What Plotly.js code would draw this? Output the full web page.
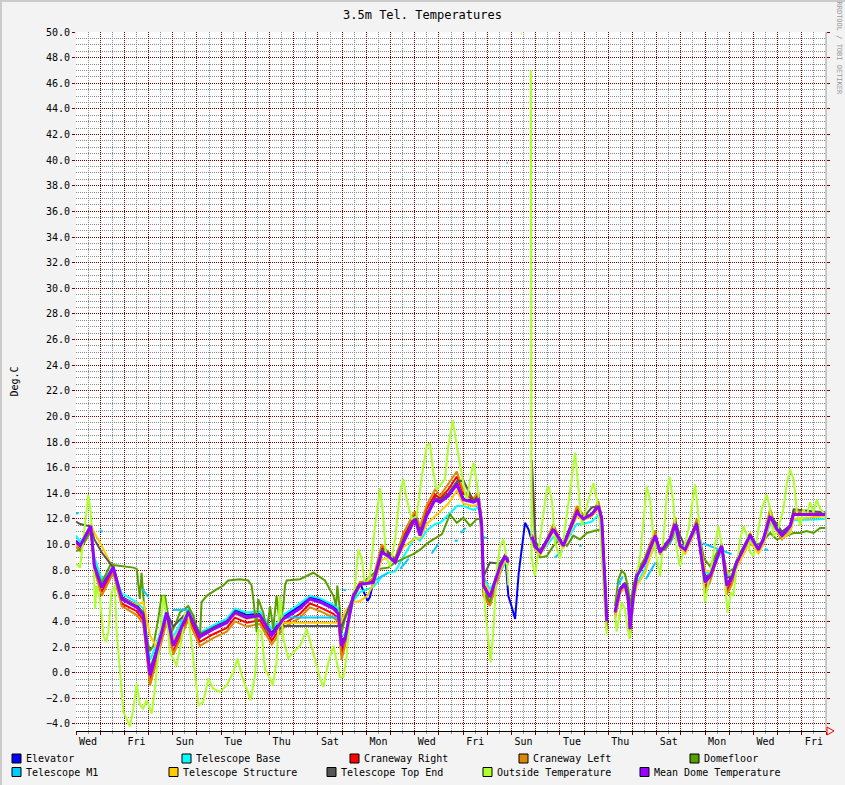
<!DOCTYPE html>
<html><head><meta charset="utf-8">
<script src="https://cdn.plot.ly/plotly-3.0.1.min.js"></script>
<style>html,body{margin:0;padding:0;background:#f3f3f3;} #chart{width:845px;height:785px;}</style>
</head><body><div id="chart"></div>
<script>
// ---------- DATA (days since start of graph; temperatures in Deg.C) ----------
const dayLabels = ['Wed','Fri','Sun','Tue','Thu','Sat','Mon','Wed','Fri','Sun','Tue','Thu','Sat','Mon','Wed','Fri'];
const labelDays = [0.5,2.5,4.5,6.5,8.5,10.5,12.5,14.5,16.5,18.5,20.5,22.5,24.5,26.5,28.5,30.5];

const seriesNames = ['Elevator','Telescope Base','Craneway Right','Craneway Left','Domefloor',
  'Telescope M1','Telescope Structure','Telescope Top End','Outside Temperature','Mean Dome Temperature'];

const days = [0,0.17,0.61,0.76,1.06,1.54,1.89,2.51,2.78,3.06,
 3.33,3.75,4.02,4.64,5.12,5.67,6.23,6.57,7.05,7.6,
 8.09,8.57,9.26,9.67,10.09,10.64,10.84,10.98,11.12,11.46,
 11.74,12.05,12.15,12.29,12.64,12.91,13.19,13.53,14.01,14.22,
 14.5,14.84,15.05,15.39,15.74,16.01,16.43,16.63,16.77,16.84,
 17.11,17.53,17.74,17.87,18.0,18.15,18.3,18.56,18.7,18.84,
 19.0,19.2,19.73,20.14,20.7,20.97,21.32,21.59,21.73,21.87,
 21.94,22.1,22.28,22.49,22.69,22.83,22.9,23.04,23.18,23.52,
 23.94,24.14,24.56,24.77,24.97,25.18,25.66,25.86,26.0,26.21,
 26.69,26.9,27.11,27.31,27.86,28.21,28.41,28.69,28.97,29.18,
 29.52,29.66,30.97];

const meanDome = [10.2,9.9,11.45,8.3,6.65,8.2,5.75,5.1,4.45,-0.2,
 1.6,4.7,2.1,4.7,2.8,3.4,3.9,4.7,4.3,4.45,
 2.9,4.2,5.0,5.75,5.5,5.0,4.6,2.1,2.65,6.0,
 6.9,6.95,7.0,7.05,9.4,9.1,8.6,10.15,12.0,10.7,
 12.25,13.5,13.3,13.8,14.7,13.5,13.3,13.5,11.45,6.8,
 5.9,8.3,9.1,8.6,null,null,null,null,null,10.6,
 9.8,9.4,11.2,9.9,12.5,12.0,12.35,13.0,12.0,6.8,
 4.0,null,4.7,6.5,6.9,5.75,3.4,6.0,7.55,8.6,
 10.7,9.4,10.4,11.6,9.9,9.6,11.6,8.9,7.05,7.55,
 9.9,6.8,7.4,8.6,10.7,9.6,10.4,12.2,11.2,10.7,
 11.45,12.35,12.35];

const elevator = [10.3,10.0,11.5,8.0,6.8,8.3,5.9,5.3,4.6,0.0,
 1.8,4.9,2.3,4.9,3.0,3.6,4.1,4.9,4.5,4.6,
 3.1,4.4,5.2,5.9,5.7,5.2,4.8,2.3,2.8,6.1,
 7.0,5.6,5.9,7.1,9.5,9.2,8.7,10.3,12.1,10.8,
 12.3,13.6,13.4,13.9,14.8,13.6,13.4,13.6,11.5,6.9,
 6.0,8.4,9.2,6.0,5.2,4.2,7.8,11.7,11.2,10.3,
 9.9,9.5,11.3,10.0,12.6,12.1,12.4,13.1,12.1,6.9,
 4.1,null,4.8,6.6,7.0,5.9,3.5,6.1,7.7,8.7,
 10.8,9.5,10.5,11.7,10.0,9.7,11.7,9.0,7.2,7.7,
 10.0,6.9,7.5,8.7,10.8,9.7,10.5,12.3,11.3,10.8,
 11.5,12.4,12.5];

const telescopeBase = [10.7,10.2,11.3,9.0,7.3,8.1,6.2,5.5,5.0,1.0,
 2.2,5.0,2.8,5.0,3.1,3.7,4.2,5.0,4.7,4.8,
 3.4,4.5,5.4,6.0,5.8,5.3,5.0,2.9,3.0,5.6,
 6.3,6.5,6.6,6.7,7.5,7.8,7.9,9.0,10.6,10.3,
 11.1,11.6,11.7,12.3,13.0,13.0,12.7,12.9,11.8,7.5,
 6.5,7.8,8.6,8.4,null,null,null,null,null,13.5,
 9.7,9.3,10.6,9.9,11.6,11.6,11.8,12.3,11.5,7.5,
 4.5,null,5.2,6.3,6.7,6.2,4.5,5.8,7.0,8.1,
 10.0,9.4,10.1,11.0,9.9,9.6,11.1,9.3,7.8,7.8,
 9.5,7.6,7.6,8.5,10.3,9.6,10.1,11.6,11.1,10.6,
 11.1,11.9,12.0];

const cranewayRight = [10.0,9.7,11.3,8.2,6.3,8.0,5.4,4.8,4.1,-0.7,
 1.2,4.3,1.6,4.4,2.4,3.0,3.5,4.3,3.9,4.1,
 2.5,3.8,4.6,5.4,5.1,4.6,4.2,1.4,2.3,6.1,
 7.0,7.0,7.1,7.2,9.8,9.3,8.8,10.6,12.3,11.1,
 12.8,13.9,13.6,14.3,15.3,14.0,13.5,13.9,11.8,6.3,
 5.4,8.0,9.0,8.6,null,null,null,null,null,10.8,
 9.9,9.3,11.4,9.9,12.8,12.2,12.3,13.2,12.1,6.5,
 3.6,null,4.4,6.3,6.8,5.5,3.0,5.9,7.6,8.8,
 10.9,9.3,10.5,11.9,9.8,9.4,11.8,8.6,6.6,7.3,
 10.0,6.4,7.1,8.5,10.8,9.5,10.4,12.4,11.1,10.5,
 11.4,12.5,12.4];

const cranewayLeft = [9.8,9.5,11.6,8.0,6.0,7.8,5.2,4.5,3.8,-1.0,
 0.9,4.0,1.4,4.1,2.1,2.7,3.2,4.0,3.6,3.8,
 2.2,3.5,4.3,5.1,4.8,4.3,4.0,1.0,2.1,6.2,
 7.1,7.1,7.2,7.4,10.0,9.4,8.9,10.9,12.6,11.4,
 13.1,14.3,13.8,14.7,15.7,14.2,13.6,14.1,12.0,6.0,
 5.2,7.8,8.9,8.4,null,null,null,null,null,15.0,
 10.0,9.3,11.6,9.8,13.0,12.3,12.3,13.4,12.2,6.2,
 3.3,null,4.2,6.2,6.7,5.3,2.7,5.8,7.8,9.0,
 11.1,9.2,10.6,12.1,9.7,9.3,12.0,8.4,6.3,7.1,
 10.1,6.1,6.9,8.4,10.9,9.4,10.4,12.8,11.0,10.4,
 11.4,12.6,12.4];

const telescopeStructure = [10.0,9.8,11.6,10.9,9.9,8.1,5.8,5.3,5.5,2.9,
 2.0,4.6,2.5,4.6,2.9,3.4,3.9,4.6,4.2,4.4,
 3.0,3.9,3.9,3.9,3.9,3.9,3.9,3.9,4.8,5.5,
 5.6,6.0,6.4,6.9,8.8,9.0,8.7,9.8,10.5,10.5,
 11.6,12.2,12.6,13.2,14.2,13.2,13.0,13.2,11.8,7.2,
 6.2,7.9,8.8,8.4,null,null,null,null,null,14.8,
 9.6,9.2,11.0,9.7,12.2,11.9,12.2,12.8,12.0,7.2,
 4.6,null,4.3,6.2,6.6,5.8,4.2,5.5,6.8,7.8,
 10.2,9.4,10.3,11.3,9.8,9.3,11.3,9.4,8.0,7.9,
 9.6,7.9,7.6,8.2,10.2,9.3,10.0,11.8,11.0,10.5,
 10.9,12.0,12.2];

const telescopeTopEnd = [11.8,11.6,11.4,10.4,9.4,8.2,5.8,5.2,4.7,0.3,
 1.8,4.7,3.6,4.8,3.0,3.5,4.0,4.8,4.4,4.5,
 3.0,3.65,3.65,3.65,3.65,3.65,3.65,3.65,4.3,6.0,
 6.9,7.0,7.0,7.2,9.6,9.4,8.8,10.4,12.2,11.0,
 12.4,13.6,13.5,14.0,14.9,15.0,13.4,13.7,11.7,7.5,
 8.6,8.5,9.2,8.8,null,null,null,null,null,16.6,
 10.2,9.6,11.2,10.1,12.6,12.1,12.9,13.0,12.1,7.0,
 4.2,null,4.8,6.5,7.0,5.9,3.8,6.5,7.5,8.8,
 10.7,9.6,10.5,11.8,10.7,9.8,11.7,8.8,7.5,7.7,
 10.0,7.4,7.5,8.7,10.8,9.7,10.4,12.3,11.6,11.0,
 11.5,12.75,12.5];

const m1Days = [0.0,0.1,0.15,0.98,1.1,1.15,2.75,3.0,3.05,4.0,4.6,4.65,
 8.55,10.95,11.0,11.05,11.15,11.2,12.35,12.9,12.95,13.4,13.75,13.8,
 14.7,15.0,15.05,15.65,15.78,15.82,15.9,16.1,16.15,16.8,17.0,17.05,
 17.8,17.85,17.88,19.8,20.1,20.15,20.8,20.9,20.95,22.4,22.6,22.65,
 23.55,23.95,24.0,25.0,25.2,25.25,25.9,27.1,27.15,28.45,28.6,28.65,
 29.45,29.55,29.6];
const telescopeM1 = [12.4,12.5,null,11.1,11.0,null,6.5,5.9,null,4.9,4.9,null,
 4.3,4.3,null,6.5,6.4,null,7.2,7.8,null,8.1,8.9,null,
 9.3,10.1,null,10.3,10.3,null,10.9,11.3,null,10.6,10.5,null,
 39.8,39.8,null,9.0,9.5,null,9.9,9.9,null,6.8,7.5,null,
 7.3,8.6,null,9.9,9.9,null,10.1,9.25,null,9.6,9.6,null,
 11.3,11.3,null];

const floorDays = [0.0,0.17,0.61,0.76,1.06,1.47,1.54,1.96,2.37,2.51,
 2.64,2.71,2.78,2.92,3.06,3.2,3.4,3.54,3.68,3.82,
 3.95,4.09,4.3,4.64,4.85,5.06,5.12,5.19,5.4,5.81,
 6.09,6.29,6.78,7.12,7.26,7.33,7.47,7.53,7.74,7.88,
 8.02,8.15,8.29,8.43,8.57,8.64,8.71,9.26,9.81,10.29,
 10.64,10.75,10.8,10.89,10.98,11.12,11.46,11.74,12.16,12.5,
 12.91,13.19,13.53,13.94,14.22,14.56,14.77,15.12,15.46,15.74,
 16.01,16.29,16.57,16.7,16.81,16.91,17.11,17.25,17.53,17.74,
 17.87,18.3,18.84,19.04,19.18,19.46,19.73,20.01,20.29,20.56,
 20.83,21.11,21.39,21.69,21.8,21.87,21.94,22.1,22.28,22.42,
 22.56,22.69,22.83,22.9,23.04,23.18,23.52,23.73,23.94,24.14,
 24.35,24.62,24.77,24.97,25.25,25.59,25.8,25.96,26.21,26.55,
 26.69,26.9,27.17,27.45,27.73,28.0,28.34,28.69,28.97,29.38,
 29.66,29.93,30.2,30.48,30.76,30.97];
const domefloor = [9.5,9.6,11.0,8.5,7.0,8.6,8.4,8.3,8.2,8.1,
 5.75,7.8,6.3,2.65,1.7,2.1,4.2,6.0,6.0,4.2,
 3.15,3.7,4.7,5.2,4.45,3.15,2.65,5.5,6.0,6.5,
 6.8,7.2,7.3,7.2,6.8,5.75,3.15,5.75,4.7,3.15,
 5.2,3.4,6.0,3.7,5.2,6.8,7.2,7.3,7.8,7.2,
 6.0,5.2,6.8,5.2,3.15,4.2,5.75,6.8,7.55,8.1,
 8.2,8.6,8.9,9.25,9.6,10.15,10.4,10.8,12.35,11.7,
 12.1,11.45,12.0,12.0,9.6,6.3,5.5,6.8,8.6,9.1,
 8.8,null,10.15,9.4,9.0,9.1,9.9,10.4,9.9,10.7,
 10.4,10.9,11.05,11.2,8.3,5.2,3.7,null,5.2,7.3,
 7.95,7.7,6.5,5.2,6.8,7.8,8.9,9.9,10.4,9.6,
 9.6,10.4,11.2,9.9,9.9,11.45,10.4,8.9,8.3,9.6,
 9.9,7.8,8.1,9.4,10.15,9.9,10.15,10.9,10.4,10.7,
 10.9,10.9,11.05,10.9,11.3,11.3];

const outsideDays = [0.0,0.17,0.30,0.41,0.51,0.61,0.72,0.79,0.85,0.99,
 1.13,1.24,1.34,1.47,1.61,1.68,1.82,1.96,2.23,2.37,
 2.51,2.64,2.78,2.92,3.13,3.26,3.40,3.61,3.75,3.88,
 4.16,4.37,4.50,4.64,4.85,5.06,5.26,5.47,5.67,5.95,
 6.23,6.50,6.67,6.85,7.05,7.22,7.40,7.53,7.67,7.81,
 8.02,8.13,8.29,8.43,8.57,8.77,8.98,9.26,9.54,9.81,
 10.09,10.22,10.43,10.64,10.77,10.91,11.05,11.19,11.33,11.53,
 11.67,11.81,11.95,12.15,12.36,12.57,12.70,12.81,12.98,13.19,
 13.39,13.53,13.67,13.88,14.08,14.29,14.50,14.63,14.77,14.91,
 15.12,15.25,15.39,15.57,15.74,15.94,16.15,16.29,16.43,16.57,
 16.70,16.81,16.91,17.05,17.14,17.25,17.39,17.53,17.67,17.80,
 17.87,17.90,18.38,18.42,18.45,18.80,18.83,18.97,19.11,19.25,
 19.46,19.53,19.67,19.80,20.01,20.15,20.29,20.49,20.63,20.77,
 20.91,21.11,21.39,21.53,21.66,21.77,21.87,21.94,22.10,22.28,
 22.35,22.55,22.69,22.80,22.88,23.04,23.18,23.32,23.45,23.59,
 23.73,23.87,24.00,24.14,24.28,24.42,24.53,24.69,24.83,24.97,
 25.11,25.32,25.49,25.59,25.73,25.86,26.00,26.14,26.35,26.55,
 26.69,26.83,26.93,27.07,27.17,27.31,27.45,27.59,27.73,27.86,
 28.00,28.14,28.34,28.55,28.69,28.83,28.97,29.24,29.38,29.52,
 29.66,29.80,29.93,30.07,30.20,30.34,30.48,30.62,30.76,30.90,
 30.97];
const outsideTemp = [8.5,8.2,10.4,12.5,13.9,12.5,8.9,5.0,6.8,5.75,
 2.9,2.4,3.2,6.3,6.8,3.2,-0.2,-3.05,-4.2,-2.8,
 -0.85,-2.5,-2.8,-2.15,-3.2,-1.25,1.35,6.0,4.45,1.6,
 0.55,2.65,4.7,4.45,1.1,-2.55,-2.3,-0.45,-1.25,-1.5,
 -1.0,0.05,1.1,-0.2,-1.25,-2.15,-0.2,3.4,3.15,0.3,
 -0.45,-1.0,0.8,6.0,2.65,1.1,1.6,2.1,3.4,1.6,
 -0.45,-1.1,0.8,2.1,0.8,-0.35,-0.35,1.35,4.7,6.8,
 9.6,8.9,6.8,7.55,11.45,14.4,12.2,9.1,8.3,10.4,
 14.0,15.1,13.5,12.0,12.2,15.3,17.7,17.9,15.6,14.3,
 14.8,15.1,17.7,19.7,17.7,15.6,13.3,15.1,16.4,14.8,
 12.75,8.3,5.0,2.4,0.8,3.2,8.1,9.9,10.4,8.9,
 6.8,null,49.9,49.9,null,47.0,9.0,7.55,9.6,11.45,
 14.3,14.55,13.5,10.15,8.9,10.4,12.2,15.1,17.15,14.55,
 11.45,13.0,14.8,13.5,11.5,7.8,4.7,2.9,null,4.5,
 3.2,5.5,5.0,3.5,2.65,5.5,7.55,9.1,11.7,14.55,
 13.5,10.4,8.9,7.55,10.4,14.0,15.3,13.3,9.6,8.3,
 9.6,11.2,13.5,14.7,12.2,8.9,5.5,7.05,9.4,11.45,
 9.9,6.8,4.7,6.3,6.0,8.3,10.4,11.45,10.7,9.4,
 9.1,10.4,12.75,13.9,12.75,10.7,10.9,12.75,14.8,15.85,
 15.1,12.5,11.45,12.75,12.2,13.3,12.5,13.5,12.75,12.5,
 12.0];

// ---------- STYLE / LAYOUT ----------
const colors = ['#0000FF','#00FFFF','#FF0000','#DD8800','#55A000',
  '#00CCFF','#FFCC00','#555555','#ADFF2F','#9900FF'];
const MONO = 'DejaVu Sans Mono, monospace';
const L = 76, R = 826, T = 32, B = 731;
function px(x){ return (x - L) / (R - L); }
function py(y){ return (B - y) / (B - T); }

const seriesX = [days, days, days, days, floorDays, m1Days, days, days, outsideDays, days];
const seriesY = [elevator, telescopeBase, cranewayRight, cranewayLeft, domefloor,
  telescopeM1, telescopeStructure, telescopeTopEnd, outsideTemp, meanDome];

const traces = seriesNames.map((n, i) => ({
  type: 'scatter', mode: 'lines', name: n, x: seriesX[i], y: seriesY[i],
  line: {color: colors[i], width: i === 9 ? 3 : 2}, connectgaps: false,
  hoverinfo: 'skip', showlegend: false
}));
traces.push({type:'scatter', mode:'lines', x:[0,31], y:[null,null], xaxis:'x2', yaxis:'y',
  showlegend:false, hoverinfo:'skip'});

// legend placement (pixel positions)
const legRow = [0,0,0,0,0,1,1,1,1,1];
const legBoxX = [12,182,350,519,690,12,169,327,483,640];
const legRowY = [758.5, 772];

const shapes = [];
const annotations = [];
seriesNames.forEach((n, i) => {
  const cy = legRowY[legRow[i]];
  shapes.push({type:'rect', xref:'paper', yref:'paper',
    x0: px(legBoxX[i]), x1: px(legBoxX[i] + 9), y0: py(cy + 4.5), y1: py(cy - 4.5),
    fillcolor: colors[i], line: {color:'#000', width:1}});
  annotations.push({xref:'paper', yref:'paper', x: px(legBoxX[i] + 13), y: py(cy),
    xanchor:'left', yanchor:'middle', text: n, showarrow:false,
    font:{family:MONO, size:10, color:'#000'}, borderpad:0});
});
shapes.push({type:'line', xref:'paper', yref:'paper', x0:1, x1:1, y0:0, y1:1,
  line:{color:'#999999', width:1}});
shapes.push({type:'rect', xref:'paper', yref:'paper', x0:px(0), x1:px(2), y0:py(785), y1:py(0),
  fillcolor:'#cbcbcb', line:{width:0}, layer:'below'});
shapes.push({type:'rect', xref:'paper', yref:'paper', x0:px(0), x1:px(845), y0:py(2), y1:py(0),
  fillcolor:'#cbcbcb', line:{width:0}, layer:'below'});
shapes.push({type:'path', xref:'paper', yref:'paper',
  path: 'M ' + px(827) + ',' + py(727) + ' L ' + px(834) + ',' + py(731) + ' L ' + px(827) + ',' + py(735) + ' Z',
  line:{color:'#FF0000', width:1}, fillcolor:'rgba(0,0,0,0)'});

annotations.push({xref:'paper', yref:'paper', x:px(838.5), y:py(48), text:'RRDTOOL / TOBI OETIKER',
  textangle:90, showarrow:false, font:{family:MONO, size:7, color:'#999999'}, xanchor:'center', yanchor:'middle'});

const layout = {
  width: 845, height: 785,
  margin: {l: L, r: 845 - R, t: T, b: 785 - B, pad: 0},
  paper_bgcolor: '#f3f3f3', plot_bgcolor: '#ffffff', showlegend: false,
  title: {text: '3.5m Tel. Temperatures', font: {family: MONO, size: 12, color: '#000'},
    x: 0.5, xref: 'container', xanchor: 'center', y: 1 - 15/785, yref: 'container', yanchor: 'middle'},
  xaxis: {range: [0, 31], tickmode: 'linear', tick0: 0, dtick: 1, showticklabels: false,
    ticks: 'outside', ticklen: 3, tickcolor: '#800000', tickwidth: 1,
    showgrid: true, gridcolor: '#7a0000', griddash: '1px,1px', gridwidth: 1, zeroline: false,
    showline: true, linecolor: '#000000', linewidth: 1,
    minor: {tick0: 0, dtick: 0.5, showgrid: true, gridcolor: '#8c8c8c', griddash: '1px,1px',
      ticks: 'outside', ticklen: 2, tickcolor: '#9a9a9a'}},
  xaxis2: {overlaying: 'x', anchor: 'y', side: 'bottom', range: [0, 31], tickmode: 'array',
    tickvals: labelDays, ticktext: dayLabels, showgrid: false, zeroline: false, showline: false,
    ticks: 'outside', ticklen: 1, tickcolor: 'rgba(0,0,0,0)',
    tickfont: {family: MONO, size: 10, color: '#000'}},
  yaxis: {range: [-4.55, 50], tickmode: 'linear', tick0: 0, dtick: 2, tickformat: '.1f',
    ticks: 'outside', ticklen: 3, tickcolor: '#800000', mirror: 'ticks',
    showgrid: true, gridcolor: '#7a0000', griddash: '1px,1px', zeroline: false, showline: false,
    minor: {tick0: 0, dtick: 0.5, showgrid: true, gridcolor: '#8c8c8c', griddash: '1px,1px'},
    tickfont: {family: MONO, size: 10, color: '#000'},
    title: {text: 'Deg.C', font: {family: MONO, size: 10, color: '#000'}, standoff: 25}},
  shapes: shapes, annotations: annotations
};
Plotly.newPlot('chart', traces, layout, {staticPlot: true, displayModeBar: false});
</script></body></html>
